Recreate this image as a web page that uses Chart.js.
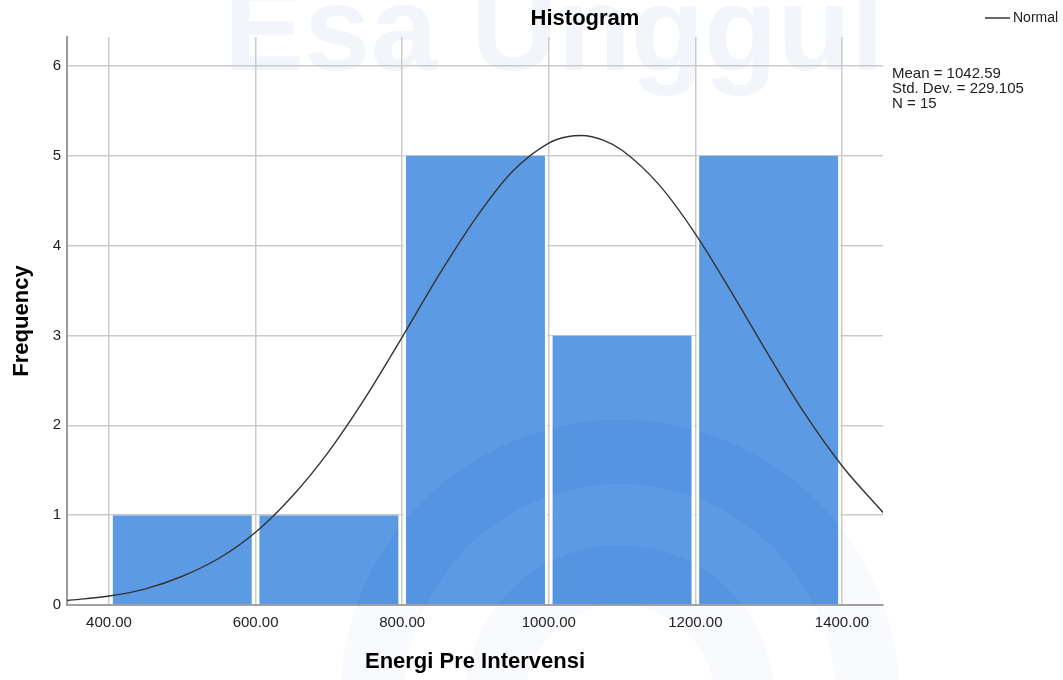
<!DOCTYPE html>
<html>
<head>
<meta charset="utf-8">
<title>Histogram</title>
<script src="https://cdn.jsdelivr.net/npm/chart.js@4.4.1/dist/chart.umd.min.js"></script>
<style>
    html, body { margin: 0; padding: 0; background: #ffffff; }
    #wrap { width: 1063px; height: 680px; }
</style>
</head>
<body>
<div id="wrap"><canvas id="histChart" width="1063" height="680"></canvas></div>
<script>
// histogram bins (centre of each 200-wide bin) and counts
const binCenters = [500, 700, 900, 1100, 1300];
const frequencies = [1, 1, 5, 3, 5];

// normal curve
const curveX = [343, 400, 450, 500, 550, 600, 650, 700, 750, 800, 850, 900, 950, 1000, 1025, 1045, 1075, 1100, 1150, 1200, 1250, 1300, 1350, 1400, 1456];
const curveY = [0.05, 0.10, 0.18, 0.32, 0.52, 0.81, 1.21, 1.71, 2.31, 2.98, 3.67, 4.30, 4.82, 5.14, 5.21, 5.224, 5.17, 5.06, 4.68, 4.13, 3.47, 2.78, 2.12, 1.55, 1.03];

// axis ticks
const xTicks = [400, 600, 800, 1000, 1200, 1400];
const yTicks = [0, 1, 2, 3, 4, 5, 6];

const statLines = ['Mean = 1042.59', 'Std. Dev. = 229.105', 'N = 15'];

const FONT = '"Liberation Sans", Arial, sans-serif';

// faint logo rings in the lower part of the picture
function drawRings(ctx, color) {
    ctx.strokeStyle = color;
    ctx.lineWidth = 64;
    ctx.beginPath();
    ctx.arc(620, 700, 248, Math.PI * 0.98, Math.PI * 2.02);
    ctx.stroke();
    ctx.lineWidth = 60;
    ctx.beginPath();
    ctx.arc(620, 700, 125, Math.PI * 0.98, Math.PI * 2.02);
    ctx.stroke();
}

// background watermark ("Esa Unggul")
const watermark = {
    id: 'watermark',
    beforeDraw(chart) {
        const ctx = chart.ctx;
        ctx.save();
        ctx.fillStyle = '#ffffff';
        ctx.fillRect(0, 0, chart.width, chart.height);
        ctx.font = 'bold 120px ' + FONT;
        ctx.fillStyle = '#f2f5fa';
        ctx.textBaseline = 'alphabetic';
        ctx.textAlign = 'left';
        ctx.fillText('Esa Unggul', 224, 70);
        drawRings(ctx, 'rgba(232,238,247,0.3)');
        ctx.restore();
    },
    afterDatasetDraw(chart, args) {
        if (args.index !== 0) return;
        const ctx = chart.ctx;
        ctx.save();
        ctx.beginPath();
        args.meta.data.forEach(bar => {
            const p = bar.getProps(['x', 'y', 'base', 'width'], true);
            ctx.rect(p.x - p.width / 2 + 2.5, p.y, p.width - 5, p.base - p.y);
        });
        ctx.clip();
        drawRings(ctx, 'rgba(30,86,194,0.1)');
        ctx.restore();
    }
};

// title, legend entry and stats box
const annotations = {
    id: 'annotations',
    afterDraw(chart) {
        const ctx = chart.ctx;
        ctx.save();
        ctx.fillStyle = '#000000';
        ctx.textBaseline = 'middle';
        ctx.textAlign = 'center';
        ctx.font = 'bold 22px ' + FONT;
        ctx.fillText('Histogram', 585, 19);

        ctx.strokeStyle = '#333333';
        ctx.lineWidth = 1.5;
        ctx.beginPath();
        ctx.moveTo(985, 18);
        ctx.lineTo(1010, 18);
        ctx.stroke();
        ctx.textAlign = 'left';
        ctx.font = '14px ' + FONT;
        ctx.fillStyle = '#222222';
        ctx.fillText('Normal', 1013, 18);

        ctx.font = '15px ' + FONT;
        statLines.forEach((t, i) => ctx.fillText(t, 892, 74 + i * 15));
        ctx.restore();
    }
};

function initChart() {
    const ctx = document.getElementById('histChart').getContext('2d');

    new Chart(ctx, {
        type: 'bar',
        data: {
            datasets: [{
                type: 'bar',
                label: 'Frequency',
                data: binCenters.map((c, i) => ({ x: c, y: frequencies[i] })),
                backgroundColor: '#5c9be4',
                borderColor: '#ffffff',
                borderWidth: { left: 2.5, right: 2.5, top: 0, bottom: 0 },
                borderSkipped: false,
                categoryPercentage: 1,
                barPercentage: 0.982,
                order: 2
            }, {
                type: 'line',
                label: 'Normal',
                data: curveX.map((x, i) => ({ x: x, y: curveY[i] })),
                borderColor: '#333333',
                borderWidth: 1.4,
                pointRadius: 0,
                fill: false,
                cubicInterpolationMode: 'monotone',
                order: 1
            }]
        },
        options: {
            responsive: false,
            animation: false,
            layout: {
                padding: { top: 37, right: 180, bottom: 0, left: 0 }
            },
            plugins: {
                legend: { display: false },
                tooltip: { enabled: false },
                title: { display: false }
            },
            scales: {
                x: {
                    type: 'linear',
                    min: 342.7,
                    max: 1456,
                    offset: false,
                    afterBuildTicks: scale => { scale.ticks = xTicks.map(v => ({ value: v })); },
                    afterFit: scale => { scale.height = 75; },
                    grid: { color: '#cbcbcb', lineWidth: 1.5, drawTicks: false, offset: false },
                    border: { color: '#a0a0a0', width: 2 },
                    ticks: {
                        padding: 9,
                        color: '#222222',
                        font: { family: FONT, size: 15 },
                        maxRotation: 0,
                        callback: v => Number(v).toFixed(2)
                    },
                    title: {
                        display: true,
                        text: 'Energi Pre Intervensi',
                        color: '#000000',
                        font: { family: FONT, size: 22, weight: 'bold' },
                        padding: { top: 0, bottom: 5 }
                    }
                },
                y: {
                    min: 0,
                    max: 6.32,
                    afterBuildTicks: scale => { scale.ticks = yTicks.map(v => ({ value: v })); },
                    afterFit: scale => { scale.width = 67; },
                    grid: { color: '#cbcbcb', lineWidth: 1.5, drawTicks: false },
                    border: { color: '#9a9a9a', width: 2 },
                    ticks: {
                        padding: 6,
                        color: '#222222',
                        font: { family: FONT, size: 15 },
                        callback: v => String(v)
                    },
                    title: {
                        display: true,
                        text: 'Frequency',
                        color: '#000000',
                        font: { family: FONT, size: 22, weight: 'bold' },
                        padding: { top: 9, bottom: 0 }
                    }
                }
            }
        },
        plugins: [watermark, annotations]
    });
}

initChart();
</script>
</body>
</html>
